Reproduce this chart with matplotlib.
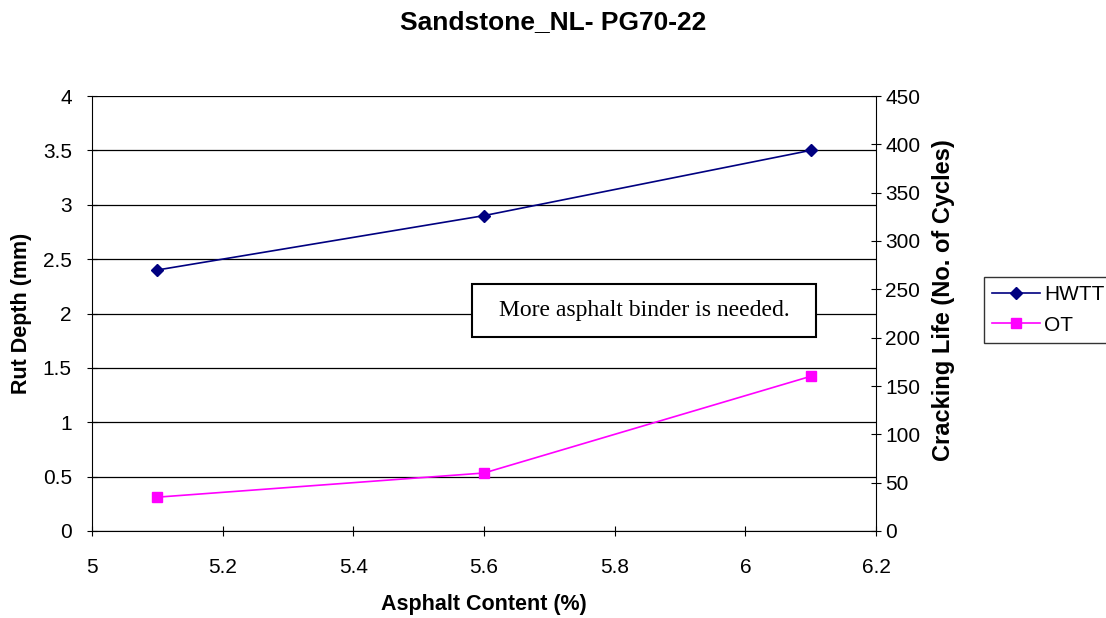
import matplotlib.pyplot as plt
from matplotlib.lines import Line2D
from matplotlib.patches import Rectangle

asphalt_content = [5.1, 5.6, 6.1]
hwtt_rut_depth = [2.4, 2.9, 3.5]
ot_cycles = [35, 60, 160]

plt.rcParams['font.family'] = ['Liberation Sans', 'DejaVu Sans']

fig = plt.figure(figsize=(11.06, 6.18), dpi=100)
ax = fig.add_axes([92 / 1106, 1 - 531 / 618, (876 - 92) / 1106, (531 - 96) / 618])
ax2 = ax.twinx()

ax.plot(asphalt_content, hwtt_rut_depth, color='#000080', marker='D', markersize=6, linewidth=1.2, clip_on=False)
ax2.plot(asphalt_content, ot_cycles, color='#FF00FF', marker='s', markersize=7, linewidth=1.2, clip_on=False)

ax.set_xlim(5, 6.2)
ax.set_ylim(0, 4)
ax2.set_ylim(0, 450)
ax.set_xticks([5, 5.2, 5.4, 5.6, 5.8, 6, 6.2])
ax.set_xticklabels(['5', '5.2', '5.4', '5.6', '5.8', '6', '6.2'])
ax.set_yticks([0, 0.5, 1, 1.5, 2, 2.5, 3, 3.5, 4])
ax.set_yticklabels(['0', '0.5', '1', '1.5', '2', '2.5', '3', '3.5', '4'])
ax2.set_yticks(range(0, 451, 50))

ax.grid(axis='y', color='black', linewidth=0.9)
ax.set_axisbelow(True)
ax.spines['top'].set_visible(False)
ax2.spines['top'].set_visible(False)
ax2.spines['left'].set_visible(False)
ax2.spines['bottom'].set_visible(False)
ax.spines['right'].set_visible(False)
ax.tick_params(axis='x', labelsize=15, length=7, width=0.8, direction='inout', pad=16)
ax.tick_params(axis='y', labelsize=15, length=7, width=0.8, direction='inout', pad=11)
ax2.tick_params(axis='y', labelsize=15, length=7, width=0.8, direction='inout', pad=3)

ax.set_xlabel('Asphalt Content (%)', fontsize=15.5, fontweight='bold', labelpad=12)
ax.set_ylabel('Rut Depth (mm)', fontsize=15.5, fontweight='bold', labelpad=8)
ax2.set_ylabel('Cracking Life (No. of Cycles)', fontsize=17, fontweight='bold', labelpad=10)
ax2.yaxis.set_label_coords(1.072, 0.53)
fig.text(0.5, 1 - 22 / 618, 'Sandstone_NL- PG70-22', fontsize=19, fontweight='bold', ha='center', va='center')

# note box
ax.add_patch(Rectangle((5.582, 1.78), 6.108 - 5.582, 2.27 - 1.78, facecolor='white',
                       edgecolor='black', linewidth=1.5, zorder=5))
ax.text((5.582 + 6.108) / 2, 2.03, 'More asphalt binder is needed.', fontsize=17,
        family=['Liberation Serif', 'DejaVu Serif'], ha='center', va='center', zorder=6)

handles = [Line2D([], [], color='#000080', marker='D', markersize=6, linewidth=1.2),
           Line2D([], [], color='#FF00FF', marker='s', markersize=7, linewidth=1.2)]
leg = fig.legend(handles, ['HWTT', 'OT'], loc='upper left', bbox_to_anchor=(984 / 1106, 1 - 277 / 618),
                 fontsize=15, frameon=True, fancybox=False, edgecolor='black', handlelength=2.3,
                 borderaxespad=0, borderpad=0.4, labelspacing=0.55, handletextpad=0.2)
leg.get_frame().set_linewidth(1.0)

fig.savefig('out.png', dpi=100)
